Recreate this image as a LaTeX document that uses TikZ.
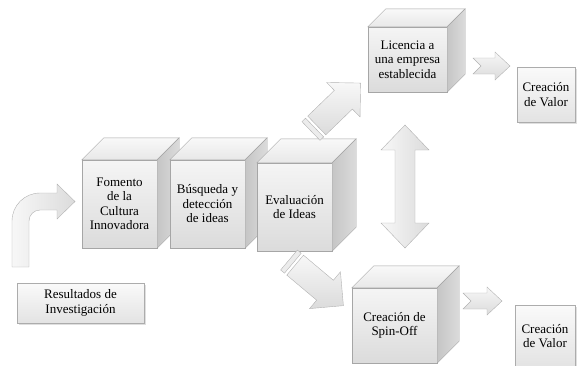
\documentclass[tikz,border=0pt]{standalone}
\usepackage{fontspec}
\setmainfont{Liberation Serif}
\usetikzlibrary{positioning, shadows, calc}

\tikzset{
  boxfont/.style={font=\fontsize{13}{14.5}\selectfont},
  cubefront/.style={draw=gray!70, top color=gray!8, bottom color=gray!28, align=center, inner sep=0pt, boxfont},
  cubetop/.style={draw=gray!70, top color=gray!5, bottom color=gray!18},
  cubeside/.style={draw=gray!70, left color=gray!45, right color=gray!28},
  flatbox/.style={draw=gray!65, top color=gray!4, bottom color=gray!22, align=center, inner sep=0pt, boxfont,
    drop shadow={opacity=0.25, shadow xshift=1.5pt, shadow yshift=-1.5pt}},
  blockarrow/.style={draw=gray!60, top color=gray!6, bottom color=gray!28},
  stripe/.style={draw=gray!60, fill=gray!15}
}

\begin{document}
\begin{tikzpicture}[x=1pt, y=-1pt]
                \useasboundingbox (0,0) rectangle (577,365);
                \clip (0,0) rectangle (577,365);

                % first row of cubes
                \node [cubefront, minimum width=75pt, minimum height=88pt] (fomento) at (119.5,204) {Fomento\\de la\\Cultura\\Innovadora};
                \draw [cubetop] (fomento.north west) -- ++(22,-22) -- ($(fomento.north east)+(22,-22)$) -- (fomento.north east) -- cycle;
                \draw [cubeside] (fomento.north east) -- ++(22,-22) -- ($(fomento.south east)+(22,-22)$) -- (fomento.south east) -- cycle;

                \node [cubefront, minimum width=75pt, minimum height=88pt] (busqueda) at (207.5,204) {Búsqueda y\\detección\\de ideas};
                \draw [cubetop] (busqueda.north west) -- ++(22,-22) -- ($(busqueda.north east)+(22,-22)$) -- (busqueda.north east) -- cycle;
                \draw [cubeside] (busqueda.north east) -- ++(22,-22) -- ($(busqueda.south east)+(22,-22)$) -- (busqueda.south east) -- cycle;

                \node [cubefront, minimum width=75pt, minimum height=88pt] (evaluacion) at (294.5,207) {Evaluación\\de Ideas};
                \draw [cubetop] (evaluacion.north west) -- ++(24,-24) -- ($(evaluacion.north east)+(24,-24)$) -- (evaluacion.north east) -- cycle;
                \draw [cubeside] (evaluacion.north east) -- ++(24,-24) -- ($(evaluacion.south east)+(24,-24)$) -- (evaluacion.south east) -- cycle;

                % the two ways out
                \node [cubefront, minimum width=79pt, minimum height=65pt] (licencia) at (407.5,59.5) {Licencia a\\una empresa\\establecida};
                \draw [cubetop] (licencia.north west) -- ++(18,-18) -- ($(licencia.north east)+(18,-18)$) -- (licencia.north east) -- cycle;
                \draw [cubeside] (licencia.north east) -- ++(18,-18) -- ($(licencia.south east)+(18,-18)$) -- (licencia.south east) -- cycle;

                \node [cubefront, minimum width=85pt, minimum height=75pt] (spinoff) at (394.5,325.5) {Creación de\\Spin-Off};
                \draw [cubetop] (spinoff.north west) -- ++(22,-22) -- ($(spinoff.north east)+(22,-22)$) -- (spinoff.north east) -- cycle;
                \draw [cubeside] (spinoff.north east) -- ++(22,-22) -- ($(spinoff.south east)+(22,-22)$) -- (spinoff.south east) -- cycle;

                % flat boxes
                \node [flatbox, minimum width=127pt, minimum height=40pt] (resultados) at (80.5,303) {Resultados de\\Investigación};
                \node [flatbox, minimum width=58pt, minimum height=55pt] (valorA) at (546,94.5) {Creación\\de Valor};
                \node [flatbox, minimum width=60pt, minimum height=62pt] (valorB) at (545,336) {Creación\\de Valor};

                % bent arrow from the results
                \draw [blockarrow, left color=gray!6, right color=gray!28] (12,267) -- (12,221) .. controls (12,205.5) and (24.5,193) .. (40,193) -- (57,193) -- (57,184) -- (75,201.5) -- (57,219) -- (57,210) -- (40,210) .. controls (33.9,210) and (29,214.9) .. (29,221) -- (29,267) -- cycle;

                % striped arrow up to the licence
                \coordinate (upTail) at (311,131);
                \begin{scope}[shift={(upTail)}, rotate=44]
                  \draw [stripe] (0,-13) rectangle (5,13);
                  \draw [blockarrow] (8,-13) -- (45,-13) -- (45,-24) -- (69,0) -- (45,24) -- (45,13) -- (8,13) -- cycle;
                \end{scope}

                % striped arrow down to the spin-off
                \coordinate (downTail) at (289,260);
                \begin{scope}[shift={(downTail)}, rotate=-40]
                  \draw [stripe] (0,-13) rectangle (5,13);
                  \draw [blockarrow] (8,-13) -- (47,-13) -- (47,-24) -- (71,0) -- (47,24) -- (47,13) -- (8,13) -- cycle;
                \end{scope}

                % both ways
                \coordinate (bothTip) at (405,125);
                \draw [blockarrow, left color=gray!6, right color=gray!28] (bothTip) -- ++(24,25) -- ++(-14,0) -- ++(0,73) -- ++(14,0) -- ++(-24,25) -- ++(-24,-25) -- ++(14,0) -- ++(0,-73) -- ++(-14,0) -- cycle;

                % notched arrows to the value boxes
                \coordinate (valueA) at (473,58);
                \coordinate (valueB) at (463,293);
                \draw [blockarrow] (valueA) -- ++(22,0) -- ++(0,-6) -- ++(15,14) -- ++(-15,14) -- ++(0,-6) -- ++(-22,0) -- ++(8,-8) -- cycle;
                \draw [blockarrow] (valueB) -- ++(24,0) -- ++(0,-6) -- ++(15,14) -- ++(-15,14) -- ++(0,-6) -- ++(-24,0) -- ++(8,-8) -- cycle;
            \end{tikzpicture}
\end{document}
